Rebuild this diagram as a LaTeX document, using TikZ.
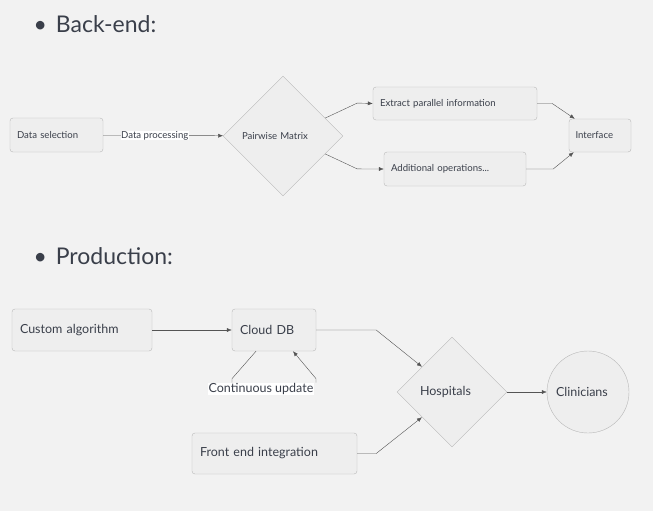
\documentclass[tikz,border=0pt]{standalone}
\usepackage{fontspec}
\setmainfont{Lato}
\usetikzlibrary{shapes.geometric,arrows.meta}
\definecolor{bgcol}{HTML}{F2F2F2}
\definecolor{nodefill}{HTML}{EEEEEE}
\definecolor{nodeline}{HTML}{B8B8B8}
\definecolor{inkcol}{HTML}{3A3F4A}
\definecolor{linecol}{HTML}{555555}
\begin{document}
\begin{tikzpicture}
[x=1pt, y=-1pt,
 every node/.style={text=inkcol},
 box/.style={draw=nodeline, fill=nodefill, rounded corners=3pt, align=left, inner xsep=7pt, inner ysep=0pt},
 dia/.style={diamond, draw=nodeline, fill=nodefill, aspect=1, inner sep=0pt, align=left},
 conn/.style={draw=linecol, -{Latex[length=5pt,width=4pt]}},
 lbl/.style={fill=white, inner sep=0.5pt},
 title/.style={anchor=west, font=\fontsize{23}{26}\selectfont}]
\useasboundingbox[fill=bgcol] (0,0) rectangle (653,511);
% titles
\node[title] (back) at (30,24) {\textbullet\hspace{9pt}Back-end:};
\node[title] (prod) at (30,256) {\textbullet\hspace{9pt}Production:};
% back-end
\begin{scope}[every node/.append style={font=\fontsize{9.6}{11}\selectfont}]
\node[box, text width=79pt, minimum height=34pt] (sel) at (56.5,135) {Data selection};
\node[dia, minimum size=120pt, text width=82pt] (pm) at (283,136) {Pairwise Matrix};
\node[box, text width=150pt, minimum height=33pt] (ext) at (455,103.5) {Extract parallel information};
\node[box, text width=128pt, minimum height=34pt] (add) at (455,169) {Additional operations...};
\node[box, text width=49pt, inner xsep=6.5pt, minimum height=33pt] (intf) at (600,135.5) {Interface};
\draw[conn] (sel) -- node[lbl, pos=.43] {Data processing} (pm);
\draw[conn] (pm.23) -- ++(32,-15) -- (ext.west);
\draw[conn] (pm.-23) -- ++(32,15) -- (add.west);
\draw[conn] (ext.east) -- ++(15,0) -- ([xshift=6pt]intf.north west);
\draw[conn] (add.east) -- ++(27,0) -- ([xshift=5pt]intf.south west);
\end{scope}
% production
\begin{scope}[every node/.append style={font=\fontsize{12.5}{14}\selectfont}]
\node[box, inner xsep=8pt, text width=124pt, minimum height=42pt] (alg) at (82,330) {Custom algorithm};
\node[box, inner xsep=8pt, text width=68pt, minimum height=42pt] (db) at (274,330) {Cloud DB};
\node[box, inner xsep=8pt, text width=149pt, minimum height=41pt] (front) at (274.5,453.5) {Front end integration};
\node[dia, minimum size=110pt, text width=64pt] (hosp) at (452,392) {Hospitals};
\node[circle, draw=nodeline, fill=nodefill, minimum size=82pt, inner sep=0pt, text width=64pt, align=left] (clin) at (588,392) {Clinicians};
\node[lbl] (upd) at (261,389) {Continuous update};
\draw[conn] (alg) -- (db);
\draw[draw=linecol] ([xshift=-18pt]db.south) -- ([xshift=-29pt,yshift=4pt]upd.north) -- ([xshift=-29pt]upd.north);
\draw[conn] ([xshift=55pt]upd.north) -- ([xshift=55pt,yshift=4pt]upd.north) -- ([xshift=19pt]db.south);
\draw[conn] (db.east) -- ++(60,0) -- (hosp.140);
\draw[conn] (front.east) -- ++(19,0) -- (hosp.220);
\draw[conn] (hosp) -- (clin);
\end{scope}
\end{tikzpicture}
\end{document}
